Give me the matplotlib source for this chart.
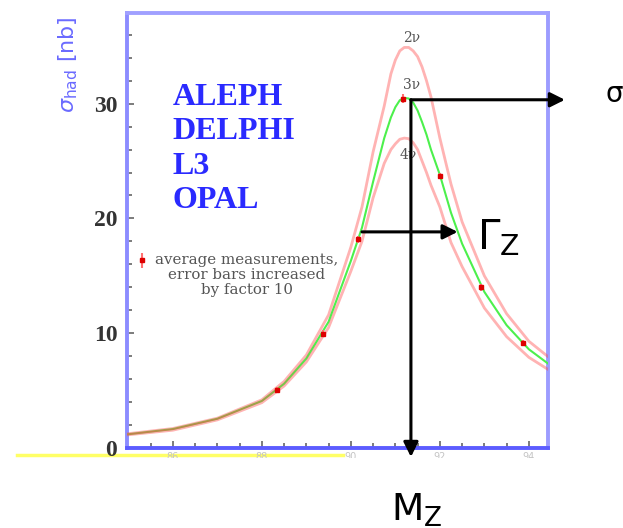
import matplotlib
matplotlib.use("Agg")
import matplotlib.pyplot as plt
from matplotlib.legend_handler import HandlerErrorbar
from matplotlib.lines import Line2D
from matplotlib.transforms import Bbox

# Z line shape curves (E_cm in GeV, sigma_had in nb)
energy = [85.0, 86.0, 87.0, 88.0, 88.5, 89.0, 89.5, 90.0, 90.25, 90.5, 90.75,
          90.9, 91.0, 91.1, 91.2, 91.3, 91.4, 91.5, 91.6, 91.7, 91.8, 92.0,
          92.25, 92.5, 93.0, 93.5, 94.0, 94.45]
sigma_2nu = [1.25, 1.7, 2.6, 4.2, 5.8, 8.1, 11.6, 17.5, 21.0, 25.8, 29.8,
             32.6, 33.8, 34.6, 34.9, 34.9, 34.6, 34.1, 33.2, 32.0, 30.6, 27.0,
             23.0, 19.7, 15.0, 11.7, 9.3, 7.9]
sigma_3nu = [1.2, 1.65, 2.55, 4.1, 5.6, 7.8, 11.0, 16.3, 19.2, 23.2, 27.0,
             28.8, 29.7, 30.3, 30.5, 30.45, 30.1, 29.4, 28.4, 27.3, 26.0, 23.8,
             20.5, 17.8, 13.6, 10.7, 8.6, 7.3]
sigma_4nu = [1.15, 1.55, 2.45, 3.95, 5.4, 7.5, 10.5, 15.4, 18.0, 21.8, 24.8,
             26.0, 26.5, 26.9, 27.0, 26.95, 26.6, 26.0, 25.0, 24.0, 22.9, 21.0,
             17.9, 15.8, 12.2, 9.7, 7.9, 6.8]

# averaged measurements
meas_e = [88.34, 89.37, 90.17, 91.17, 92.0, 92.93, 93.87]
meas_sigma = [5.05, 9.95, 18.2, 30.45, 23.7, 14.0, 9.15]
meas_err = [0.25, 0.3, 0.3, 0.35, 0.3, 0.3, 0.3]

experiments = ["ALEPH", "DELPHI", "L3", "OPAL"]
x_ticks = [86, 88, 90, 92, 94]
y_ticks = [0, 10, 20, 30]

# annotation values
mz = 91.35
sigma_peak = 30.34
gamma_level = 18.83
gamma_lo, gamma_hi = 90.25, 92.4


class FirstLineErrorbar(HandlerErrorbar):
    """Errorbar legend handle lined up with the first line of a 3-line label."""

    def create_artists(self, legend, orig_handle, xdescent, ydescent,
                       width, height, fontsize, trans):
        return super().create_artists(legend, orig_handle, xdescent,
                                      ydescent - 2.0 * fontsize, width, height,
                                      fontsize, trans)


W, H = 623, 528
fig = plt.figure(figsize=(W / 100, H / 100), dpi=100)
ax = fig.add_axes([127 / W, 1 - 448 / H, (548 - 127) / W, (448 - 13) / H])

ax.plot(energy, sigma_3nu, color="#4cf04c", lw=1.5, zorder=3)
for curve in (sigma_2nu, sigma_4nu):
    ax.plot(energy, curve, color="#ff4a4a", lw=2.0, alpha=0.42, zorder=4)

meas = ax.errorbar(meas_e, meas_sigma, yerr=meas_err, fmt="s", ms=3.5,
                   color="#dd0000", ecolor="#ff7070", elinewidth=1.5, capsize=0,
                   zorder=5,
                   label="average measurements,\nerror bars increased\nby factor 10")

ax.set_xlim(84.97, 94.43)
ax.set_ylim(0, 37.9)
ax.set_xticks(x_ticks)
ax.set_xticks([x / 2 for x in range(171, 189)], minor=True)
ax.set_yticks(y_ticks)
ax.set_yticks(range(0, 38, 2), minor=True)
ax.tick_params(which="both", direction="in", color="#666666", width=1.2)
ax.tick_params(which="major", length=5)
ax.tick_params(which="minor", length=3.5)
ax.tick_params(axis="y", labelsize=17, pad=7, labelcolor="#333333")
ax.tick_params(axis="x", labelsize=7, pad=3, labelcolor="#c4c4c4")
for lab in ax.get_yticklabels():
    lab.set_family("Liberation Serif")
    lab.set_weight("bold")

spine_colors = {"left": "#8c8cff", "top": "#a0a0ff", "right": "#9c9cff", "bottom": "#5c5cff"}
for side, col in spine_colors.items():
    ax.spines[side].set_color(col)
    ax.spines[side].set_linewidth(2.8)

# only the top rows of the x tick labels show in the picture
clip = Bbox.from_extents(0, H - 458, W, H - 452)
for lab in ax.get_xticklabels():
    lab.set_clip_box(clip)
    lab.set_clip_on(True)

fig.text(68 / W, 1 - 65 / H, r"$\sigma_{\rm had}$ [nb]", rotation=90,
         ha="center", va="center", color="#6a6aff", fontsize=16)

for i, name in enumerate(experiments):
    ax.text(0.109, 0.788 - i * 0.0785, name, transform=ax.transAxes,
            family="Liberation Serif", weight="bold", fontsize=23,
            color="#2a2aff", va="baseline")

for txt, (xx, yy) in zip(["2ν", "3ν", "4ν"], [(91.37, 35.75), (91.37, 31.65), (91.28, 25.5)]):
    ax.text(xx, yy, txt, ha="center", va="center", fontsize=10,
            family="DejaVu Serif", color="#555555", zorder=6)

leg = ax.legend(handles=[meas], loc="upper left", bbox_to_anchor=(-0.008, 0.48),
                frameon=False, handlelength=0.6, handletextpad=0.6,
                labelspacing=0.2,
                handler_map={type(meas): FirstLineErrorbar()},
                prop={"family": "DejaVu Serif", "size": 10.8})
for t in leg.get_texts():
    t.set_color("#555555")
    t.set_multialignment("center")
    t.set_linespacing(1.1)

arrow = dict(arrowstyle="-|>", color="black", lw=2.2, mutation_scale=22,
             shrinkA=0, shrinkB=0)
ax.annotate("", xy=(94.81, sigma_peak), xytext=(mz, sigma_peak),
            arrowprops=arrow, annotation_clip=False, zorder=7)
ax.annotate("", xy=(mz, -0.78), xytext=(mz, sigma_peak),
            arrowprops=arrow, annotation_clip=False, zorder=7)
ax.annotate("", xy=(gamma_hi, gamma_level), xytext=(gamma_lo, gamma_level),
            arrowprops=arrow, annotation_clip=False, zorder=7)

ax.text(95.72, 30.8, "σ", fontsize=20, va="center", ha="left", clip_on=False)
ax.text(92.83, 17.26, r"$\mathregular{\Gamma_Z}$", fontsize=29, va="baseline",
        ha="left", clip_on=False)
ax.text(90.9, -6.3, r"$\mathregular{M_Z}$", fontsize=27, va="baseline",
        ha="left", clip_on=False)

fig.add_artist(Line2D([17 / W, 343 / W], [1 - 455 / H, 1 - 455 / H],
                      color="#ffff66", lw=2.5, transform=fig.transFigure, zorder=0))

fig.savefig("out.png", dpi=100)
